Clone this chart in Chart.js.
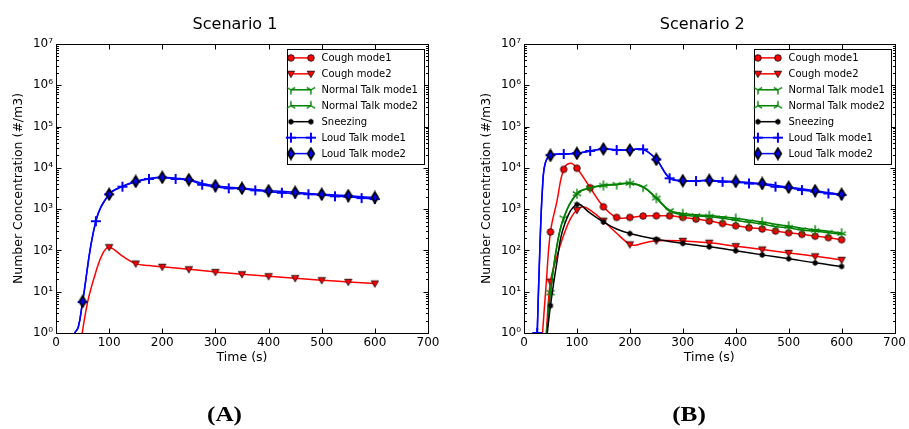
<!DOCTYPE html>
<html>
<head>
<meta charset="utf-8">
<script src="https://cdn.jsdelivr.net/npm/chart.js@4.4.1/dist/chart.umd.min.js"></script>
<style>
  body { margin: 0; background: #fff; }
  canvas { position: absolute; top: 0; }
</style>
</head>
<body>
<canvas id="chartA" width="460" height="429" style="left:0"></canvas>
<canvas id="chartB" width="449" height="429" style="left:460px"></canvas>
<script>
// ---- data ----
const seriesNames = ['Cough mode1', 'Cough mode2', 'Normal Talk mode1', 'Normal Talk mode2',
  'Sneezing', 'Loud Talk mode1', 'Loud Talk mode2'];
const xTicks = [0, 100, 200, 300, 400, 500, 600, 700];
const yTicks = [1, 10, 100, 1e3, 1e4, 1e5, 1e6, 1e7];

// Scenario 1
const s1LoudTime = [35, 42, 50, 75, 100, 125, 150, 175, 200, 225, 250, 275, 300, 325, 350, 375, 400, 425, 450, 475, 500, 525, 550, 575, 600];
const s1Loud1 = [1, 1.4, 5.6, 510, 2280, 3500, 4600, 5400, 5800, 5400, 5100, 3900, 3500, 3200, 3100, 2850, 2650, 2500, 2400, 2300, 2200, 2050, 2000, 1850, 1750];
const s1Loud2 = [1, 1.4, 5.8, 520, 2300, 3600, 4700, 5500, 5900, 5600, 5200, 4200, 3700, 3400, 3200, 3000, 2800, 2700, 2560, 2400, 2300, 2200, 2130, 2000, 1920];
const s1Cough2Time = [48, 60, 75, 88, 100, 125, 150, 175, 200, 250, 300, 350, 400, 450, 500, 550, 600];
const s1Cough2 = [0.8, 6, 30, 85, 120, 73, 48, 43, 40, 35, 30, 26.5, 23.7, 21.3, 19, 17.3, 15.8];

// Scenario 2
const s2LoudTime = [25, 30, 35, 40, 50, 75, 100, 125, 150, 175, 200, 225, 250, 275, 300, 325, 350, 375, 400, 425, 450, 475, 500, 525, 550, 575, 600];
const s2Loud1 = [1, 120, 3500, 13000, 20400, 21700, 22500, 25700, 28800, 27000, 27000, 28000, 16000, 5600, 4800, 4800, 4900, 4600, 4500, 4200, 4000, 3500, 3300, 2900, 2650, 2400, 2200];
const s2Loud2 = [1, 110, 3300, 12500, 20000, 21500, 22500, 25500, 28800, 27500, 27000, 28000, 16000, 5800, 4900, 4900, 5000, 4800, 4700, 4400, 4200, 3800, 3400, 3100, 2800, 2500, 2300];
const s2Cough1Time = [35, 42, 50, 62, 75, 88, 100, 125, 150, 175, 200, 225, 250, 275, 300, 325, 350, 375, 400, 425, 450, 475, 500, 525, 550, 575, 600];
const s2Cough1 = [1, 16, 280, 1500, 9200, 12900, 9800, 3300, 1140, 630, 630, 680, 690, 690, 630, 575, 515, 450, 395, 355, 330, 295, 268, 245, 222, 204, 182];
const s2Cough2Time = [42, 50, 62, 75, 88, 100, 112, 125, 150, 175, 200, 212, 225, 250, 300, 350, 400, 450, 500, 550, 600];
const s2Cough2 = [1, 17.5, 70, 235, 600, 950, 1140, 950, 525, 260, 140, 135, 150, 172, 170, 153, 127, 105, 87, 72, 59];
const s2TalkTime = [43, 50, 62, 75, 100, 125, 150, 175, 200, 225, 250, 275, 300, 325, 350, 375, 400, 425, 450, 475, 500, 525, 550, 575, 600];
const s2Talk1 = [1, 9.5, 120, 600, 2330, 3200, 3700, 3900, 4200, 3400, 1820, 910, 720, 680, 660, 600, 540, 480, 435, 375, 355, 310, 295, 268, 247];
const s2Talk2 = [1, 9.5, 130, 620, 2400, 3300, 3800, 4000, 4300, 3500, 1900, 950, 780, 730, 700, 650, 600, 540, 490, 430, 390, 345, 315, 290, 265];
const s2SneezeTime = [44, 50, 62, 75, 100, 125, 150, 175, 200, 250, 300, 350, 400, 450, 500, 550, 600];
const s2Sneeze = [1, 4.6, 50, 370, 1300, 800, 490, 330, 257, 186, 148, 122, 98, 78, 63, 50, 41];

// ---- styles ----
Chart.defaults.font.family = '"DejaVu Sans", sans-serif';
const RED = '#ff0000', GREEN = '#008000', BLUE = '#0000ff', BLACK = '#000000';

function makeMarker(kind) {
  const c = document.createElement('canvas');
  c.width = c.height = 14;
  const g = c.getContext('2d');
  g.translate(7, 7);
  g.lineJoin = 'miter';
  g.beginPath();
  if (kind === 'circle') {
    g.arc(0, 0, 3.3, 0, Math.PI * 2);
    g.fillStyle = RED; g.fill();
    g.lineWidth = 0.8; g.strokeStyle = BLACK; g.stroke();
  } else if (kind === 'triDown') {
    g.moveTo(-3.7, -2.7); g.lineTo(3.7, -2.7); g.lineTo(0, 3.7); g.closePath();
    g.fillStyle = RED; g.fill();
    g.lineWidth = 0.8; g.strokeStyle = BLACK; g.stroke();
  } else if (kind === 'tri1' || kind === 'tri2') {
    const s = kind === 'tri1' ? 1 : -1;
    g.moveTo(0, 0); g.lineTo(0, 4.8 * s);
    g.moveTo(0, 0); g.lineTo(-4.2, -2.4 * s);
    g.moveTo(0, 0); g.lineTo(4.2, -2.4 * s);
    g.lineWidth = 1.4; g.strokeStyle = GREEN; g.stroke();
  } else if (kind === 'hex') {
    for (let k = 0; k < 6; k++) {
      const t = Math.PI / 6 + k * Math.PI / 3;
      g.lineTo(2.9 * Math.cos(t), 2.9 * Math.sin(t));
    }
    g.closePath();
    g.fillStyle = BLACK; g.fill();
  } else if (kind === 'plus') {
    g.moveTo(-5, 0); g.lineTo(5, 0);
    g.moveTo(0, -5); g.lineTo(0, 5);
    g.lineWidth = 2; g.strokeStyle = BLUE; g.stroke();
  } else if (kind === 'diamond') {
    g.moveTo(0, -5.4); g.lineTo(3.3, 0); g.lineTo(0, 5.4); g.lineTo(-3.3, 0); g.closePath();
    g.fillStyle = BLUE; g.fill();
    g.lineWidth = 1.8; g.strokeStyle = BLACK; g.stroke();
  }
  return c;
}

const looks = [
  { color: RED, marker: makeMarker('circle'), every: 25 },
  { color: RED, marker: makeMarker('triDown'), every: 50 },
  { color: GREEN, marker: makeMarker('tri1'), every: 25 },
  { color: GREEN, marker: makeMarker('tri2'), every: 50 },
  { color: BLACK, marker: makeMarker('hex'), every: 50 },
  { color: BLUE, marker: makeMarker('plus'), every: 25 },
  { color: BLUE, marker: makeMarker('diamond'), every: 50 }
];

function pairs(times, values) {
  return times.map((t, i) => ({ x: t, y: values[i] }));
}

function makeDatasets(list) {
  return list.map((pts, i) => ({
    label: seriesNames[i],
    data: pts,
    borderColor: looks[i].color,
    backgroundColor: looks[i].color,
    borderWidth: 1.5,
    tension: 0.4,
    pointStyle: looks[i].marker,
    pointRadius: c => (c.raw && c.raw.x % looks[i].every === 0 ? 4 : 0),
    pointHoverRadius: 0,
    order: seriesNames.length - 1 - i
  }));
}

const sup = ['\u2070', '\u00b9', '\u00b2', '\u00b3', '\u2074', '\u2075', '\u2076', '\u2077'];

const decor = {
  id: 'decor',
  afterDraw(chart, args, o) {
    const { ctx, chartArea: a, scales: { x, y } } = chart;
    ctx.save();
    const L = Math.round(a.left) + 0.5, R = Math.round(a.right) + 0.5;
    const T = Math.round(a.top) + 0.5, B = Math.round(a.bottom) + 0.5;
    ctx.strokeStyle = '#000';
    ctx.lineWidth = 1;
    ctx.strokeRect(L, T, R - L, B - T);

    // inward tick marks on all four sides
    ctx.beginPath();
    xTicks.forEach(v => {
      const px = Math.round(x.getPixelForValue(v)) + 0.5;
      ctx.moveTo(px, B); ctx.lineTo(px, B - 5);
      ctx.moveTo(px, T); ctx.lineTo(px, T + 5);
    });
    yTicks.forEach((v, k) => {
      const py = Math.round(y.getPixelForValue(v)) + 0.5;
      ctx.moveTo(L, py); ctx.lineTo(L + 5, py);
      ctx.moveTo(R, py); ctx.lineTo(R - 5, py);
      if (k < yTicks.length - 1) {
        for (let m = 2; m <= 9; m++) {
          const pm = Math.round(y.getPixelForValue(v * m)) + 0.5;
          ctx.moveTo(L, pm); ctx.lineTo(L + 2.5, pm);
          ctx.moveTo(R, pm); ctx.lineTo(R - 2.5, pm);
        }
      }
    });
    ctx.stroke();

    // legend box, upper right
    const bw = 137, bh = 115;
    const bx = Math.round(a.right - 4 - bw) + 0.5, by = Math.round(a.top + 5) + 0.5;
    ctx.fillStyle = '#fff';
    ctx.fillRect(bx, by, bw, bh);
    ctx.strokeRect(bx, by, bw, bh);
    ctx.font = '10px "DejaVu Sans"';
    ctx.textBaseline = 'middle';
    ctx.textAlign = 'left';
    seriesNames.forEach((name, i) => {
      const cy = by + 8.4 + i * 15.95;
      ctx.beginPath();
      ctx.strokeStyle = looks[i].color;
      ctx.lineWidth = 1.5;
      ctx.moveTo(bx + 3.4, cy); ctx.lineTo(bx + 23.4, cy);
      ctx.stroke();
      const img = looks[i].marker;
      ctx.drawImage(img, bx + 3.4 - img.width / 2, cy - img.height / 2);
      ctx.drawImage(img, bx + 23.4 - img.width / 2, cy - img.height / 2);
      ctx.fillStyle = '#000';
      ctx.fillText(name, bx + 34, cy + 0.5);
    });

    // titles
    const cx = (a.left + a.right) / 2;
    ctx.fillStyle = '#000';
    ctx.textAlign = 'center';
    ctx.textBaseline = 'alphabetic';
    ctx.font = '16px "DejaVu Sans"';
    ctx.fillText(o.title, cx - 7, 29);
    ctx.font = '12.5px "DejaVu Sans"';
    ctx.fillText('Time (s)', cx, 361);
    ctx.save();
    ctx.translate(a.left - 34.3, (a.top + a.bottom) / 2);
    ctx.rotate(-Math.PI / 2);
    ctx.fillText('Number Concentration (#/m3)', 0, 0);
    ctx.restore();

    // panel letter
    ctx.save();
    ctx.translate(o.letterX, 421);
    ctx.scale(1.2, 1);
    ctx.font = 'bold 21px "Liberation Serif"';
    ctx.fillText(o.letter, 0, 0);
    ctx.restore();
    ctx.restore();
  }
};

function makeChart(id, datasets, yWidth, padRight, opts) {
  return new Chart(document.getElementById(id), {
    type: 'line',
    data: { datasets },
    options: {
      responsive: false,
      animation: false,
      devicePixelRatio: 1,
      layout: { padding: { left: 0, top: 44, right: padRight, bottom: 76 } },
      plugins: {
        legend: { display: false },
        tooltip: { enabled: false },
        decor: opts
      },
      scales: {
        x: {
          type: 'linear', min: 0, max: 700,
          grid: { display: false, drawTicks: false },
          border: { display: false },
          ticks: { stepSize: 100, padding: 3, color: '#000', font: { size: 12 }, maxRotation: 0 },
          afterFit: s => { s.height = 20; }
        },
        y: {
          type: 'logarithmic', min: 1, max: 1e7,
          grid: { display: false, drawTicks: false },
          border: { display: false },
          ticks: {
            autoSkip: false, padding: 3, color: '#000', font: { size: 12 },
            callback: v => '10' + sup[Math.round(Math.log10(v))]
          },
          afterBuildTicks: s => { s.ticks = yTicks.map(v => ({ value: v })); },
          afterFit: s => { s.width = yWidth; }
        }
      }
    },
    plugins: [decor]
  });
}

makeChart('chartA', makeDatasets([
  [],
  pairs(s1Cough2Time, s1Cough2),
  [],
  [],
  [],
  pairs(s1LoudTime, s1Loud1),
  pairs(s1LoudTime, s1Loud2)
]), 56, 32, { title: 'Scenario 1', letter: '(A)', letterX: 224.5 });

makeChart('chartB', makeDatasets([
  pairs(s2Cough1Time, s2Cough1),
  pairs(s2Cough2Time, s2Cough2),
  pairs(s2TalkTime, s2Talk1),
  pairs(s2TalkTime, s2Talk2),
  pairs(s2SneezeTime, s2Sneeze),
  pairs(s2LoudTime, s2Loud1),
  pairs(s2LoudTime, s2Loud2)
]), 64, 12, { title: 'Scenario 2', letter: '(B)', letterX: 229 });
</script>
</body>
</html>
